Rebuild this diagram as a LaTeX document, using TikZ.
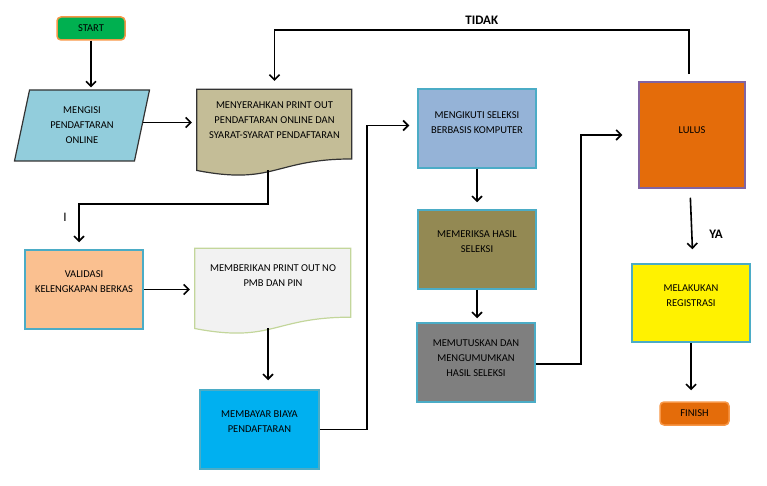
\documentclass[tikz,border=0pt]{standalone}
\usepackage{fontspec}
\setmainfont{Carlito}
\usetikzlibrary{shapes.geometric, arrows.meta, backgrounds}

\definecolor{startgreen}{HTML}{00B050}
\definecolor{edgeorange}{HTML}{F79646}
\definecolor{finishorange}{HTML}{E46C0A}
\definecolor{edgeblue}{HTML}{4BACC6}
\definecolor{inputblue}{HTML}{92CDDC}
\definecolor{paperbrown}{HTML}{C4BD97}
\definecolor{papergrey}{HTML}{F2F2F2}
\definecolor{edgegreen}{HTML}{C3D69B}
\definecolor{peach}{HTML}{FAC090}
\definecolor{skyblue}{HTML}{00B0F0}
\definecolor{steelblue}{HTML}{95B3D7}
\definecolor{khaki}{HTML}{938953}
\definecolor{midgrey}{HTML}{7F7F7F}
\definecolor{edgepurple}{HTML}{8064A2}

\tikzstyle{startstop} = [rectangle, rounded corners=4pt, minimum width=68pt, minimum height=23pt, text centered, draw=edgeorange, line width=1.5pt]
\tikzstyle{io} = [trapezium, trapezium left angle=77, trapezium right angle=103, trapezium stretches=true, minimum width=136pt, minimum height=71pt, align=center, draw=black!80, line width=1.2pt, fill=inputblue]
\tikzstyle{process} = [rectangle, minimum width=118pt, minimum height=79pt, align=center, draw=edgeblue, line width=1.5pt]
\tikzstyle{paper} = [rectangle, minimum width=155pt, minimum height=87pt, align=center]
\tikzstyle{paperedge} = [line width=1.2pt, x=155pt, y=87pt]
\tikzstyle{arrow} = [line width=1.6pt, ->, >={Straight Barb[length=5pt, width=10pt]}]
\tikzstyle{answer} = [font=\fontsize{13}{15}\selectfont\bfseries]

\begin{document}
\begin{tikzpicture}[x=1pt, y=-1pt, font=\fontsize{10.5}{15}\selectfont]
    \useasboundingbox (0,0) rectangle (767,486);

    % Nodes
    \node (start) [startstop, fill=startgreen] at (91,28.5) {START};
    \node (mengisi) [io] at (82,125.5) {MENGISI\\PENDAFTARAN\\ONLINE};
    \node (menyerahkan) [paper] at (274.5,132.5) {MENYERAHKAN PRINT OUT\\PENDAFTARAN ONLINE DAN\\SYARAT-SYARAT PENDAFTARAN\\\mbox{}\\[-6pt]\mbox{}};
    \node (cursor) [font=\fontsize{13}{15}\selectfont] at (65,217) {I};
    \node (validasi) [process, fill=peach] at (84,289.5) {VALIDASI\\KELENGKAPAN BERKAS\\\mbox{}};
    \node (memberikan) [paper, minimum width=156pt, minimum height=86pt] at (273,291) {MEMBERIKAN PRINT OUT NO\\PMB DAN PIN\\\mbox{}\\\mbox{}};
    \node (membayar) [process, minimum width=119pt, fill=skyblue] at (259.5,429.5) {MEMBAYAR BIAYA\\PENDAFTARAN\\\mbox{}};
    \node (mengikuti) [process, fill=steelblue] at (477,128.5) {MENGIKUTI SELEKSI\\BERBASIS KOMPUTER\\[-3pt]\mbox{}};
    \node (memeriksa) [process, fill=khaki] at (477,249.5) {MEMERIKSA HASIL\\SELEKSI\\\mbox{}};
    \node (memutuskan) [process, fill=midgrey] at (476,362.5) {MEMUTUSKAN DAN\\MENGUMUMKAN\\HASIL SELEKSI\\[-6pt]\mbox{}};
    \node (lulus) [process, minimum width=106pt, minimum height=106pt, draw=edgepurple, fill=finishorange] at (692,135) {LULUS\\[-5pt]\mbox{}};
    \node (melakukan) [process, minimum height=78pt, fill=yellow] at (691,303) {MELAKUKAN\\REGISTRASI\\\mbox{}};
    \node (finish) [startstop, minimum width=69pt, fill=finishorange] at (694.5,413.5) {FINISH};

    % Paper outlines
    \begin{scope}[on background layer]
        \draw [paperedge, draw=black!80, fill=paperbrown, shift={(menyerahkan.south west)}] (0,1) -- (1,1) -- (1,0.198) .. controls (0.5,0.198) and (0.5,-0.107) .. (0,0.066) -- cycle;
        \draw [paperedge, draw=edgegreen, fill=papergrey, shift={(memberikan.south west)}, x=156pt, y=86pt] (0,1) -- (1,1) -- (1,0.198) .. controls (0.5,0.198) and (0.5,-0.107) .. (0,0.066) -- cycle;
    \end{scope}

    % Arrows
    \draw [arrow, shorten >=2pt] (start) -- (start |- mengisi.north);
    \draw [arrow, shorten >=5pt] ([yshift=3pt]mengisi.east) -- ([yshift=3pt]mengisi.east -| menyerahkan.west);
    \draw [arrow, shorten >=7pt] ([xshift=-6.5pt, yshift=6pt]menyerahkan.south) -- ++(0,34) -| ([xshift=-5pt]validasi.north);
    \draw [arrow, shorten >=5pt] (validasi) -- (validasi -| memberikan.west);
    \draw [arrow, shorten >=9pt] ([xshift=-5pt, yshift=6pt]memberikan.south) -- ([xshift=-5pt]memberikan.south |- membayar.north);
    \draw [arrow, shorten >=8pt] (membayar.east) -- ++(47,0) |- ([yshift=3pt]mengikuti.west);
    \draw [arrow, shorten >=7pt] (mengikuti) -- (memeriksa);
    \draw [arrow, shorten >=4pt] (memeriksa) -- (memeriksa |- memutuskan.north);
    \draw [arrow, shorten >=16pt] ([yshift=-1.5pt]memutuskan.east) -- ++(45,0) |- (lulus.west);
    \draw [arrow, shorten >=8pt] ([xshift=-3pt, yshift=7pt]lulus.north) -- ++(0,-44) -| node [answer, above, pos=0.25, yshift=2pt] {TIDAK} (menyerahkan.north);
    \draw [arrow, shorten <=9pt, shorten >=14pt] ([xshift=-2pt]lulus.south) -- ([xshift=2pt]melakukan.north);
    \node (ya) [answer] at (716,234) {YA};
    \draw [arrow, shorten >=11pt] (melakukan) -- (melakukan |- finish.north);
\end{tikzpicture}
\end{document}
